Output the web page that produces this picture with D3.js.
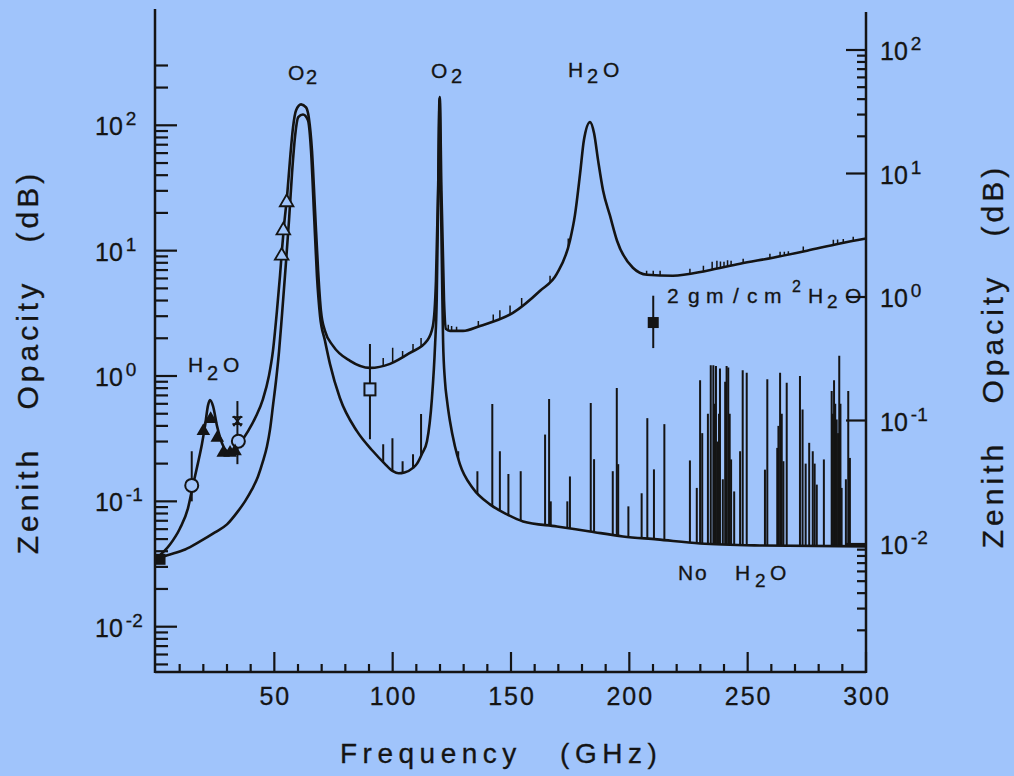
<!DOCTYPE html>
<html><head><meta charset="utf-8">
<script src="https://cdn.jsdelivr.net/npm/d3@7"></script>
<style>html,body{margin:0;padding:0;background:#a0c4fb;} svg{display:block;}</style>
</head><body>
<svg id="chart" width="1014" height="776"></svg>
<script>
// ---------- DATA ----------
// Zenith opacity with no water vapour (dB), lower curve
const freqDry = [0,5.9,12.3,18.6,24.9,30,34.6,37.6,40.6,43.1,45.2,46.9,48.2,49.4,50.7,52,53.2,54.5,56.2,57.5,58.8,60.1,62.1,64.2,65.5,66.8,68,69.3,71.4,73.5,77.7,84.9,91.7,96.5,100.1,102.5,105,108.6,110.3,112.5,114.5,116.6,117.9,118.6,119.2,119.8,120.4,120.9,121.3,122.1,123,124.2,126.3,128.4,133.9,141.1,148.3,155.1,169.4,183.4,197.3,211.7,229.9,255.2,300];
const opacityDry = [0.035,0.0377,0.0413,0.0479,0.0565,0.0655,0.0832,0.1,0.125,0.158,0.209,0.275,0.377,0.575,0.912,1.58,3.02,6.31,17.4,42.1,83.2,116,122,110,63.1,19.1,6.31,3.02,1.91,1.25,0.667,0.363,0.251,0.201,0.174,0.1675,0.17,0.185,0.2,0.242,0.302,0.667,1.74,4,25,164,25,5.75,1.9,0.912,0.631,0.437,0.275,0.198,0.127,0.0946,0.0787,0.0692,0.0631,0.0575,0.0525,0.0497,0.0461,0.0445,0.0437];

// Zenith opacity with 2 gm/cm^2 H2O (dB), upper curve
const freqWet = [0,5.9,10.1,13.5,15.6,17.7,19.4,20.7,22,22.8,24.1,25.8,27.9,30.4,33,35.5,38.9,42.3,45.2,47.7,49.4,51.1,52.4,53.2,54.1,55.4,56.6,57.9,59.2,61.3,63.4,64.6,65.9,67.2,68.5,69.7,71.4,74.8,82,90.4,98.9,107.3,114.5,117,118.3,119.2,119.9,120.6,121.7,122.5,124.2,129.7,136.9,150.8,162.3,169.4,174.9,177,179.2,180.8,183.4,185.1,186.8,188.9,191.8,194.8,201.5,207.5,218.4,232.8,246.8,260.7,275.1,289,300];
const opacityWet = [0.035,0.0453,0.0608,0.0879,0.134,0.201,0.286,0.398,0.586,0.643,0.575,0.398,0.291,0.251,0.256,0.291,0.363,0.479,0.655,1.0,1.58,3.31,6.31,10,15.8,27.5,52.5,96.4,132,147,139,114,63.1,20.9,6.92,3.31,2.29,1.74,1.32,1.16,1.25,1.53,1.91,2.51,5.75,30.2,168,30.2,3.98,2.38,2.29,2.29,2.51,3.19,4.79,6.55,12,19.1,41.3,75.9,106,86.3,52.5,30.2,19.1,12,7.31,6.43,6.31,6.92,7.87,8.79,10,11.4,12.5];

// Narrow lines rising from the dry curve: frequency (GHz) and top (dB)
const lineFreqDry = [96,99.9,104.2,108.6,112,127.7,135.8,142.1,145.3,148.9,154.1,164.4,166.1,166.8,173.8,174.9,183.7,185.1,193,194.7,195.3,199.6,205.2,207.6,210.4,214.8,225.6,228.5,229.9,230.8,233.2,234.4,235.5,236,236.6,237.3,237.9,238.3,239.5,240.5,241.1,241.8,242.4,243,244.3,246.8,247.9,249.6,257.3,258.3,262.5,263,263.7,264.4,265.1,266.5,272.1,273.2,274.5,276,277.5,278.3,279.2,282.2,285.5,286,286.5,287,287.6,288.2,288.7,289.2,289.7,291.5,292.5,293.2];
const lineTopDry  = [0.286,0.319,0.209,0.238,0.497,0.251,0.174,0.597,0.251,0.165,0.174,0.341,0.655,0.1,0.1,0.158,0.608,0.217,0.174,0.802,0.198,0.0912,0.116,0.461,0.18,0.413,0.212,0.128,0.923,0.35,0.5,1.22,1.22,0.6,1.2,0.3,0.5,1.15,0.15,0.9,1.2,1.17,0.5,0.216,0.12,0.251,1.11,1.06,0.179,0.94,0.267,0.4,1.06,0.5,0.209,0.884,1.0,0.541,0.2,0.293,0.251,0.2,0.136,0.216,0.759,0.5,0.923,0.6,0.45,0.35,1.45,0.6,0.128,0.15,0.759,0.222];

// Small line marks on the wet curve: frequency (GHz) and top (dB)
const lineFreqWet = [96,100,104.2,108.6,112,123.5,124.9,127,136.2,142.5,145.3,149.6,154.5,166.5,174.2,207.3,210.1,213,225.6,231.3,235,237,238.5,240,241.5,243,248.1,259.4,263.7,265.5,267.2,273.5,286.2,288,290.4,294.6];
const lineTopWet  = [1.39,1.68,1.585,1.8,2.01,2.56,2.51,2.47,2.75,3.1,3.35,3.65,4.2,6.31,12.5,6.92,6.92,6.92,7.18,7.59,8.17,8.3,8.2,8.17,8.4,8.3,8.63,9.46,9.82,9.82,9.9,10.8,12.2,12.3,12.4,12.9];

// Measurements: [freq, dB, errLow, errHigh]
const filledSquares = [[1.7,0.0345,null,null],[210.1,2.67,1.67,4.37]];
const openCircles   = [[15.1,0.134,0.1,0.251],[34.8,0.302,null,null]];
const filledTriangles = [[20,0.363],[23.1,0.453],[25.9,0.321],[28.4,0.244],[31.3,0.244],[33.4,0.251]];
const openTriangles = [[53.1,9.1],[53.8,14.5],[55.2,24.3]];
const openSquares   = [[90.4,0.782,0.313,1.8]];
const stars         = [[34.4,0.437,0.198,0.631]];

// Axes
const xMajorTicks = [50,100,150,200,250,300];
const xMinorTicks = [10,20,30,40,60,70,80,90,110,120,130,140,160,170,180,190,210,220,230,240,260,270,280,290];
const yExponents = [-2,-1,0,1,2];
const leftMinorTicks = [0.005,0.006,0.007,0.008,0.009,0.02,0.03,0.04,0.05,0.06,0.07,0.08,0.09,0.2,0.3,0.4,0.5,0.6,0.7,0.8,0.9,2,3,4,5,6,7,8,9,20,30,40,50,60,70,80,90,200,300];
const rightMinorTicks = [0.002,0.003,0.004,0.005,0.006,0.007,0.008,0.009,20,30,40,50,60,70,80,90];

// ---------- DRAWING ----------
const BG = '#a0c4fb', INK = '#141414';
const FONT = "'Liberation Sans', Arial, Helvetica, sans-serif";
const svg = d3.select('#chart');
svg.append('rect').attr('width',1014).attr('height',776).attr('fill',BG);

const leftX = 155, rightX = 866, plotTop = 9, plotBottom = 672;
const x = d3.scaleLinear().domain([0,300]).range([156,866]);
const y = d3.scaleLog().domain([0.01,100]).range([626.7,125.3]);
const yR = d3.scaleLog().domain([0.01,100]).range([544,50]);

const dry = freqDry.map((f,i)=>[f,opacityDry[i]]);
const wet = freqWet.map((f,i)=>[f,opacityWet[i]]);

const defs = svg.append('defs');
const above = d3.area().x(d=>x(d[0])).y0(plotTop-20).y1(d=>y(d[1])).curve(d3.curveMonotoneX);
defs.append('clipPath').attr('id','aboveDry').append('path').attr('d',above(dry));
defs.append('clipPath').attr('id','aboveWet').append('path').attr('d',above(wet));

// spectral lines from dry curve
svg.append('g').attr('clip-path','url(#aboveDry)')
  .selectAll('line').data(lineFreqDry.map((f,i)=>[f,lineTopDry[i]])).join('line')
  .attr('x1',d=>x(d[0])).attr('x2',d=>x(d[0]))
  .attr('y1',d=>y(d[1])).attr('y2',plotBottom)
  .attr('stroke',INK).attr('stroke-width',2);

// small marks on wet curve
svg.append('g').attr('clip-path','url(#aboveWet)')
  .selectAll('line').data(lineFreqWet.map((f,i)=>[f,lineTopWet[i]])).join('line')
  .attr('x1',d=>x(d[0])).attr('x2',d=>x(d[0]))
  .attr('y1',d=>y(d[1])).attr('y2',plotBottom)
  .attr('stroke',INK).attr('stroke-width',1.5);

const line = d3.line().x(d=>x(d[0])).y(d=>y(d[1])).curve(d3.curveMonotoneX);
svg.append('path').attr('d',line(dry)).attr('fill','none').attr('stroke',INK).attr('stroke-width',2.6).attr('stroke-linejoin','round');
svg.append('path').attr('d',line(wet)).attr('fill','none').attr('stroke',INK).attr('stroke-width',2.6).attr('stroke-linejoin','round');

// axes lines
const ax = svg.append('g').attr('stroke',INK).attr('stroke-width',2.5).attr('fill','none');
ax.append('line').attr('x1',leftX).attr('x2',leftX).attr('y1',plotTop).attr('y2',plotBottom+1);
ax.append('line').attr('x1',leftX).attr('x2',rightX).attr('y1',plotBottom).attr('y2',plotBottom);
ax.append('line').attr('x1',rightX).attr('x2',rightX).attr('y1',12).attr('y2',plotBottom+1);

const tk = svg.append('g').attr('stroke',INK).attr('stroke-width',2.2);
yExponents.forEach(e=>{ const v=Math.pow(10,e);
  tk.append('line').attr('x1',leftX).attr('x2',leftX+22).attr('y1',y(v)).attr('y2',y(v));
  tk.append('line').attr('x1',rightX).attr('x2',rightX-20).attr('y1',yR(v)).attr('y2',yR(v));
});
leftMinorTicks.forEach(v=>tk.append('line').attr('x1',leftX).attr('x2',leftX+13).attr('y1',y(v)).attr('y2',y(v)));
rightMinorTicks.forEach(v=>tk.append('line').attr('x1',rightX).attr('x2',rightX-9).attr('y1',yR(v)).attr('y2',yR(v)));
xMajorTicks.forEach(v=>tk.append('line').attr('x1',x(v)).attr('x2',x(v)).attr('y1',plotBottom).attr('y2',plotBottom-20));
xMinorTicks.forEach(v=>tk.append('line').attr('x1',x(v)).attr('x2',x(v)).attr('y1',plotBottom).attr('y2',plotBottom-8));

// tick labels
const txt = svg.append('g').attr('font-family',FONT).attr('fill',INK)
  .attr('stroke',INK).attr('stroke-width',0.3);
xMajorTicks.forEach(v=>txt.append('text').attr('x',x(v)+1).attr('y',705).attr('text-anchor','middle')
  .attr('font-size',25).attr('letter-spacing',2).text(v));
function powLabel(g, px, py, e){
  const t = g.append('text').attr('x',px).attr('y',py).attr('font-size',25);
  t.append('tspan').text('10');
  t.append('tspan').attr('dx',3).attr('dy',-10).attr('font-size',19).text(String(e));
}
yExponents.forEach(e=>{ const v=Math.pow(10,e);
  powLabel(txt, 95, y(v)+10, e);
  powLabel(txt, 880, yR(v)+10, e);
});

// axis titles
txt.append('text').attr('x',340).attr('y',763).attr('font-size',28)
  .attr('letter-spacing',5.5).attr('word-spacing',25).text('Frequency (GHz)');
txt.append('text').attr('transform','translate(38,362) rotate(-90)').attr('text-anchor','middle')
  .attr('font-size',30).attr('letter-spacing',4).attr('word-spacing',25).text('Zenith Opacity (dB)');
txt.append('text').attr('transform','translate(1003,356) rotate(-90)').attr('text-anchor','middle')
  .attr('font-size',30).attr('letter-spacing',4).attr('word-spacing',25).text('Zenith Opacity (dB)');

// annotations
function rich(parts){
  const t = txt.append('text').attr('font-size',21);
  parts.forEach(p=>t.append('tspan').attr('x',p.x.join(' ')).attr('y',p.y).attr('font-size',p.s||21).text(p.t));
}
rich([{t:'O',x:[288],y:80},{t:'2',x:[306],y:84,s:20}]);
rich([{t:'O',x:[431],y:78},{t:'2',x:[451],y:83,s:20}]);
rich([{t:'H',x:[568],y:77},{t:'2',x:[587],y:83,s:20},{t:'O',x:[603],y:77}]);
rich([{t:'H',x:[188],y:372},{t:'2',x:[207],y:380,s:20},{t:'O',x:[223],y:372}]);
rich([{t:'2 gm/cm',x:[667,679,688,706,733,747,764],y:303},{t:'2',x:[792],y:292,s:16},{t:' H',x:[800,808],y:303},{t:'2',x:[827],y:308,s:19},{t:'O',x:[845],y:303}]);
rich([{t:'No H',x:[678,695,715,735],y:580},{t:'2',x:[755],y:587,s:19},{t:'O',x:[770],y:580}]);

// markers
const mk = svg.append('g');
function errBar(d){ if(d[2]!=null){ mk.append('line').attr('x1',x(d[0])).attr('x2',x(d[0]))
  .attr('y1',y(d[2])).attr('y2',y(d[3])).attr('stroke',INK).attr('stroke-width',2);} }
[...filledSquares,...openCircles,...openSquares,...stars].forEach(errBar);
filledSquares.forEach(d=>mk.append('rect').attr('x',x(d[0])-5.5).attr('y',y(d[1])-5.5).attr('width',11).attr('height',11).attr('fill',INK));
openSquares.forEach(d=>mk.append('rect').attr('x',x(d[0])-5.5).attr('y',y(d[1])-6).attr('width',11).attr('height',12).attr('fill',BG).attr('stroke',INK).attr('stroke-width',2));
openCircles.forEach(d=>mk.append('circle').attr('cx',x(d[0])).attr('cy',y(d[1])).attr('r',6.5).attr('fill',BG).attr('stroke',INK).attr('stroke-width',2));
const tri = d3.symbol(d3.symbolTriangle, 80);
filledTriangles.forEach(d=>mk.append('path').attr('d',tri()).attr('transform',`translate(${x(d[0])},${y(d[1])})`).attr('fill',INK));
openTriangles.forEach(d=>mk.append('path').attr('d',tri()).attr('transform',`translate(${x(d[0])},${y(d[1])})`).attr('fill',BG).attr('stroke',INK).attr('stroke-width',1.8));
stars.forEach(d=>{ const cx=x(d[0]), cy=y(d[1]);
  const g = mk.append('g').attr('stroke',INK).attr('stroke-width',1.8);
  g.append('line').attr('x1',cx-5).attr('x2',cx+5).attr('y1',cy-4).attr('y2',cy-4);
  g.append('line').attr('x1',cx-5).attr('x2',cx+5).attr('y1',cy+3).attr('y2',cy+3);
  g.append('line').attr('x1',cx-4).attr('x2',cx+4).attr('y1',cy-5).attr('y2',cy+5);
  g.append('line').attr('x1',cx+4).attr('x2',cx-4).attr('y1',cy-5).attr('y2',cy+5);
});
</script>
</body></html>
